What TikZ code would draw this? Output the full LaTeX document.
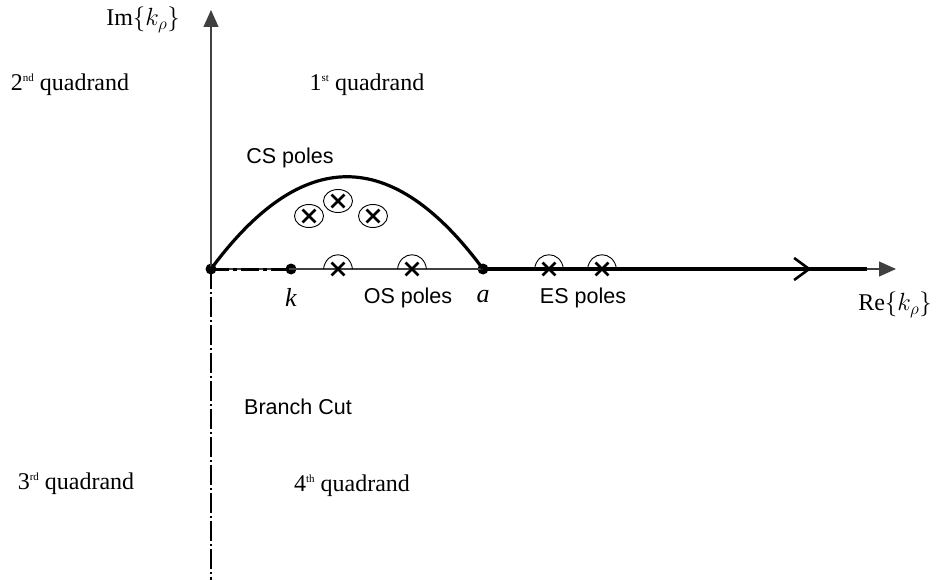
\documentclass[tikz,border=0pt]{standalone}
\usepackage{fontspec}
\setmainfont{Liberation Serif}
\setsansfont{Liberation Sans}
\usetikzlibrary{arrows.meta,shapes.misc,shapes.geometric,decorations.markings}
\newcommand{\supx}[1]{\raisebox{0.85ex}{\fontsize{11}{11}\selectfont #1}}
\begin{document}
\begin{tikzpicture}[x=1pt,y=-1pt,
  axisline/.style={line width=1.1pt,draw=black!75},
  thickline/.style={line width=3.2pt,draw=black},
  dot/.style={circle,fill=black,inner sep=0pt,minimum size=11pt},
  xmark/.style={cross out,draw=black,line width=2.8pt,inner sep=0pt,minimum size=10pt},
  pring/.style={ellipse,draw=black,line width=0.9pt,minimum width=29pt,minimum height=23pt,inner sep=0pt},
  quad/.style={font=\fontsize{24}{28}\selectfont},
  mathlabel/.style={font=\fontsize{24}{28}\selectfont},
  sflabel/.style={font=\sffamily\fontsize{21.5}{25}\selectfont},
  mlabel/.style={font=\fontsize{26}{30}\selectfont\itshape},
  bump/.style={line width=0.9pt,draw=black}
]
\useasboundingbox (0,0) rectangle (937,580);
% coordinates
\coordinate (top) at (211,10);
\coordinate (bottom) at (211,580);
\coordinate (right) at (896,269);
\coordinate (end) at (867,269);
\node[dot] (o) at (211,269) {};
\node[dot] (k) at (291,269) {};
\node[dot] (a) at (483,269) {};
% axes
\draw[axisline,-{Triangle[length=17pt,width=15pt]}] (o.center) -- (top);
\draw[axisline,-{Triangle[length=17pt,width=15pt]}] (o.center) -- (right);
% branch cut
\draw[line width=2.2pt,dash pattern=on 20pt off 3pt on 2pt off 3pt] (o.center) -- (bottom);
% dash-dot origin to k
\draw[line width=3pt,dash pattern=on 18pt off 4pt on 4pt off 4pt] (o.center) -- (k.center);
% CS contour
\draw[thickline] (o.center) .. controls (302,146) and (392,146) .. (a.center);
% thick line with arrow
\draw[thickline,postaction={decorate},decoration={markings,mark=at position 0.855 with {\arrow{Straight Barb[length=15pt,width=22pt,line width=2.6pt]}}}] (a.center) -- (end);
% CS poles
\node[pring] (c1) at (309,216) {};
\node[xmark] (x1) at (309,216) {};
\node[pring] (c2) at (338,201) {};
\node[xmark] (x2) at (338,201) {};
\node[pring] (c3) at (373,216) {};
\node[xmark] (x3) at (373,216) {};
% OS and ES poles
\node[xmark] (os1) at (338,269) {};
\node[xmark] (os2) at (412,269) {};
\node[xmark] (es1) at (549,269) {};
\node[xmark] (es2) at (602,269) {};
\foreach \p in {os1,os2,es1,es2}{
  \draw[bump] ([xshift=-14.5pt]\p.center) .. controls ([xshift=-12pt,yshift=19pt]\p.center) and ([xshift=12pt,yshift=19pt]\p.center) .. ([xshift=14.5pt]\p.center);
}
% labels
\node[mathlabel] (im) at (143,20) {$\mathrm{Im}\{k_\rho\}$};
\node[mathlabel] (re) at (895,305) {$\mathrm{Re}\{k_\rho\}$};
\node[quad] (q2) at (70,85) {2\supx{nd} quadrand};
\node[quad] (q1) at (367,85) {1\supx{st} quadrand};
\node[quad] (q3) at (76,484) {3\supx{rd} quadrand};
\node[quad] (q4) at (352,486) {4\supx{th} quadrand};
\node[sflabel] (cs) at (290,158) {CS poles};
\node[sflabel] (osl) at (408,298) {OS poles};
\node[sflabel] (esl) at (583,298) {ES poles};
\node[sflabel] (bc) at (298,407) {Branch Cut};
\node[mlabel] (kl) at (291,297) {k};
\node[mlabel] (al) at (483,297) {a};
\end{tikzpicture}
\end{document}
